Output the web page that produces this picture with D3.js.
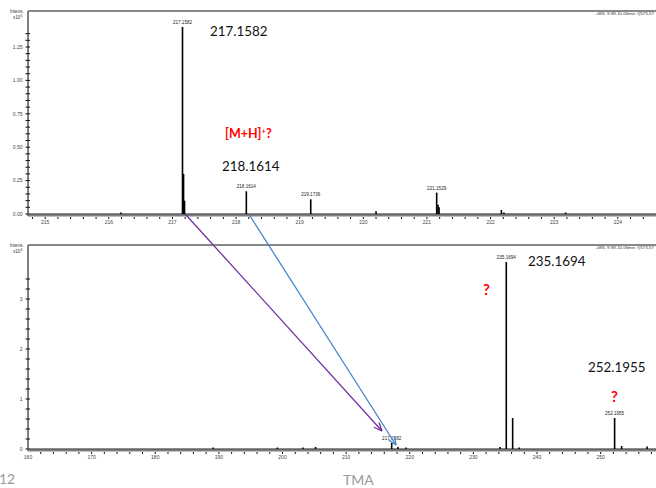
<!DOCTYPE html>
<html>
<head>
<meta charset="utf-8">
<script src="https://cdn.jsdelivr.net/npm/d3@7"></script>
<style>
  body { margin: 0; background: #fff; }
  svg { display: block; }
</style>
</head>
<body>
<svg width="656" height="488"></svg>
<script>
// Spectre de masse TMA : zoom 215-225 (haut) et vue 160-258 (bas)

// panneau haut (x10^5)
const topMz  = [216.19, 217.1582, 217.175, 217.19, 218.1614, 219.1736, 220.20, 221.1529, 221.175, 221.19, 222.17, 222.21, 223.18];
const topInt = [0.01,   1.40,     0.30,    0.10,   0.17,     0.11,     0.02,   0.16,     0.07,    0.05,   0.03,   0.01,   0.005];
const topTicks = [215, 216, 217, 218, 219, 220, 221, 222, 223, 224];
const topYTicks = [0, 0.25, 0.5, 0.75, 1.0, 1.25];
const topLabels = [
  { mz: 217.1582, v: 1.40, t: "217.1582" },
  { mz: 218.1614, v: 0.17, t: "218.1614" },
  { mz: 219.1736, v: 0.11, t: "219.1736" },
  { mz: 221.1529, v: 0.16, t: "221.1529" },
];

// panneau bas (x10^6)
const botMz  = [189.1, 199.2, 203.2, 205.2, 217.1582, 218.16, 219.4, 234.2, 235.1694, 236.17, 237.2, 252.1955, 253.3, 257.3];
const botInt = [0.03,  0.01,  0.01,  0.04,  0.12,     0.04,   0.01,  0.04,  3.74,     0.62,   0.03,  0.62,     0.06,  0.05];
const botTicks = [160, 170, 180, 190, 200, 210, 220, 230, 240, 250];
const botYTicks = [0, 1, 2, 3];
const botLabels = [
  { mz: 217.1582, v: 0.12, t: "217.1582" },
  { mz: 235.1694, v: 3.74, t: "235.1694" },
  { mz: 252.1955, v: 0.62, t: "252.1955" },
];

const svg = d3.select("svg");
const axisGray = "#808080";

function panel(o) {
  const g = svg.append("g");
  const x = d3.scaleLinear().domain(o.xDomain).range([28, 656]);
  const y = d3.scaleLinear().domain(o.yDomain).range(o.yRange);
  const y0 = y(0);

  // cadre supérieur
  g.append("line").attr("x1", 28).attr("x2", 656).attr("y1", o.frameTop).attr("y2", o.frameTop)
    .attr("stroke", "#111").attr("stroke-width", 1);

  // axe Y
  g.append("line").attr("x1", 28).attr("x2", 28).attr("y1", o.frameTop).attr("y2", y0 + 2)
    .attr("stroke", axisGray).attr("stroke-width", 2);
  const yMinor = d3.range(o.yDomain[0], o.yTicks[o.yTicks.length - 1] + o.yMinor * 3, o.yMinor)
    .filter((v) => y(v) >= o.frameTop + 2);
  g.selectAll(".ym").data(yMinor).join("line")
    .attr("x1", 25.5).attr("x2", 30).attr("y1", (d) => y(d)).attr("y2", (d) => y(d))
    .attr("stroke", "#111").attr("stroke-width", 1);
  g.selectAll(".yl").data(o.yTicks).join("text")
    .attr("x", 22.5).attr("y", (d) => y(d) + 1.8).attr("text-anchor", "end")
    .style("font", "5px 'Liberation Sans', Arial").style("fill", "#444")
    .text(o.yFmt);

  // axe X (bande grise)
  g.append("line").attr("x1", 28).attr("x2", 656).attr("y1", y0 + 1).attr("y2", y0 + 1)
    .attr("stroke", axisGray).attr("stroke-width", 3);
  g.append("line").attr("x1", 28).attr("x2", 656).attr("y1", y0).attr("y2", y0)
    .attr("stroke", "#333").attr("stroke-width", 0.7);
  const xMinor = d3.range(o.xTicks[0] - o.xMinor * 5, o.xDomain[1], o.xMinor)
    .filter((v) => x(v) > 30 && x(v) < 655);
  g.selectAll(".xm").data(xMinor).join("line")
    .attr("x1", (d) => x(d)).attr("x2", (d) => x(d)).attr("y1", y0 + 3).attr("y2", y0 + 5)
    .attr("stroke", "#111").attr("stroke-width", 1);
  g.selectAll(".xl").data(o.xTicks).join("text")
    .attr("x", (d) => x(d)).attr("y", y0 + 10).attr("text-anchor", "middle")
    .style("font", "5px 'Liberation Sans', Arial").style("fill", "#444")
    .text((d) => d);

  // pics
  g.selectAll(".pk").data(o.mz.map((m, i) => ({ m, v: o.int[i] }))).join("line")
    .attr("x1", (d) => x(d.m)).attr("x2", (d) => x(d.m))
    .attr("y1", y0).attr("y2", (d) => Math.min(y(d.v), y0 - 1.5))
    .attr("stroke", "#000").attr("stroke-width", 1.6);

  g.selectAll(".pl").data(o.labels).join("text")
    .attr("x", (d) => x(d.mz)).attr("y", (d) => y(d.v) - 3).attr("text-anchor", "middle")
    .style("font", "4.6px 'Liberation Sans', Arial").style("fill", "#222")
    .text((d) => d.t);

  // libellés
  g.append("text").attr("x", 10).attr("y", o.frameTop + 2)
    .style("font", "4.6px 'Liberation Sans', Arial").style("fill", "#333").text("Intens.");
  const ex = g.append("text").attr("x", 13).attr("y", o.frameTop + 8)
    .style("font", "4.6px 'Liberation Sans', Arial").style("fill", "#333");
  ex.append("tspan").text("x10");
  ex.append("tspan").attr("dy", -2).style("font-size", "3.6px").text(o.exp);
  g.append("text").attr("x", 654).attr("y", o.frameTop + 4).attr("text-anchor", "end")
    .style("font", "4.4px 'Liberation Sans', Arial").style("fill", "#333")
    .text("+MS, 9.98-10.06min #(573-57");

  return { x, y };
}

const T = panel({
  xDomain: [214.73, 224.6], yDomain: [0, 1.5], yRange: [214, 13.6], frameTop: 11,
  yTicks: topYTicks, yMinor: 0.05, yFmt: (d) => d.toFixed(2),
  xTicks: topTicks, xMinor: 0.2, mz: topMz, int: topInt, labels: topLabels, exp: "5",
});
const B = panel({
  xDomain: [160, 258.7], yDomain: [0, 4], yRange: [449, 249], frameTop: 245,
  yTicks: botYTicks, yMinor: 0.2, yFmt: (d) => d,
  xTicks: botTicks, xMinor: 2, mz: botMz, int: botInt, labels: botLabels, exp: "6",
});

// annotations
const big = "13.4px Lato, 'Open Sans', sans-serif";
function note(xp, yp, t, col, font) {
  svg.append("text").attr("x", xp).attr("y", yp).style("font", font).style("fill", col).text(t);
}
note(210, 36, "217.1582", "#111", big);
note(222, 171, "218.1614", "#111", big);
const mh = svg.append("text").attr("x", 225).attr("y", 138)
  .style("font", "bold 12.5px Lato, 'Open Sans', sans-serif").style("fill", "#ff0000");
mh.append("tspan").text("[M+H]");
mh.append("tspan").attr("dy", -4).style("font-size", "7.5px").text("+");
mh.append("tspan").attr("dy", 4).text("?");
note(528, 266, "235.1694", "#111", big);
note(588, 372, "252.1955", "#111", big);
note(483, 295, "?", "#ff0000", "bold 15px Lato, 'Open Sans', sans-serif");
note(611, 402, "?", "#ff0000", "bold 15px Lato, 'Open Sans', sans-serif");

// flèches
function arrow(x1, y1, x2, y2, col) {
  svg.append("line").attr("x1", x1).attr("y1", y1).attr("x2", x2).attr("y2", y2)
    .attr("stroke", col).attr("stroke-width", 1.3);
  const a = Math.atan2(y2 - y1, x2 - x1), L = 9;
  [a + Math.PI - 0.4, a + Math.PI + 0.4].forEach((b) => {
    svg.append("line").attr("x1", x2).attr("y1", y2)
      .attr("x2", x2 + L * Math.cos(b)).attr("y2", y2 + L * Math.sin(b))
      .attr("stroke", col).attr("stroke-width", 1.3);
  });
}
arrow(T.x(217.2), T.y(0), 382, 431, "#7030a0");
arrow(T.x(218.2), T.y(0), 396, 445, "#4a86c8");

// pied de page
note(-1, 484, "12", "#9a9a9a", "14px Lato, 'Open Sans', sans-serif");
note(343, 485, "TMA", "#9a9a9a", "14px Lato, 'Open Sans', sans-serif");
</script>
</body>
</html>
